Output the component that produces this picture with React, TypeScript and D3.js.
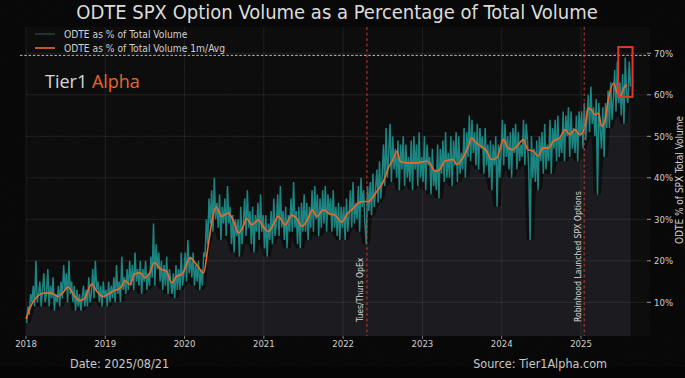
import React from "react";
import * as d3 from "d3";

// ---------- DATA ----------
const yearTicks = [2018, 2019, 2020, 2021, 2022, 2023, 2024, 2025];
const pctTicks = [10, 20, 30, 40, 50, 60, 70];

// raw daily-ish values (5 samples per month)
const raw2018 = [5, 9, 7, 12, 10, 14, 9, 20, 10, 12, 15, 9, 13, 17, 10, 12, 18, 9, 14, 11, 16, 8, 12, 10, 14, 9, 15, 11, 19, 13, 17, 10, 20, 12, 15, 10, 14, 8, 13, 9, 12, 8, 11, 14, 9, 13, 9, 16, 10, 12, 18, 11, 20, 13, 15, 10, 14, 9, 15, 11];
const raw2019 = [13, 9, 15, 10, 14, 11, 16, 10, 19, 12, 15, 10, 21, 13, 16, 12, 18, 13, 20, 14, 19, 13, 22, 15, 18, 14, 20, 12, 18, 15, 20, 13, 17, 14, 21, 16, 29, 14, 24, 18, 22, 15, 20, 13, 19, 14, 21, 12, 18, 15, 12, 17, 11, 19, 13, 18, 13, 22, 14, 17];
const raw2020 = [22, 15, 25, 17, 21, 16, 22, 14, 19, 15, 20, 13, 18, 14, 22, 21, 30, 24, 35, 29, 37, 27, 40, 30, 34, 28, 36, 25, 33, 29, 35, 26, 38, 29, 33, 24, 31, 22, 30, 26, 30, 21, 33, 24, 29, 35, 26, 37, 28, 32, 24, 33, 22, 31, 27, 34, 25, 36, 27, 31];
const raw2021 = [23, 31, 21, 29, 25, 32, 24, 35, 26, 29, 36, 26, 38, 28, 32, 25, 33, 23, 31, 27, 35, 27, 39, 28, 32, 24, 33, 23, 34, 27, 36, 27, 34, 25, 33, 28, 37, 27, 38, 30, 36, 26, 35, 28, 37, 29, 38, 27, 36, 31, 35, 27, 37, 28, 33, 26, 34, 25, 33, 28];
const raw2022 = [33, 25, 35, 27, 31, 37, 28, 39, 29, 34, 30, 38, 27, 40, 33, 37, 29, 24, 38, 32, 39, 31, 41, 33, 37, 42, 34, 44, 35, 40, 48, 38, 52, 40, 46, 53, 39, 50, 42, 47, 40, 49, 37, 48, 42, 50, 38, 48, 40, 45, 39, 49, 37, 50, 42, 48, 38, 51, 40, 45];
const raw2023 = [39, 50, 37, 48, 43, 45, 36, 47, 38, 42, 37, 48, 35, 47, 41, 49, 39, 51, 40, 46, 40, 50, 38, 49, 43, 51, 39, 50, 41, 46, 42, 52, 40, 51, 45, 55, 44, 54, 46, 51, 43, 53, 42, 52, 47, 50, 41, 52, 43, 48, 40, 49, 37, 48, 43, 50, 33, 48, 40, 46];
const raw2024 = [54, 43, 53, 45, 50, 42, 51, 40, 52, 46, 53, 42, 51, 44, 48, 45, 54, 43, 53, 49, 42, 25, 50, 40, 47, 39, 49, 37, 50, 44, 51, 41, 53, 42, 48, 44, 54, 41, 52, 47, 54, 44, 55, 45, 50, 46, 56, 44, 55, 50, 57, 45, 56, 47, 52, 46, 55, 44, 56, 50];
const raw2025 = [56, 47, 58, 49, 54, 60, 51, 62, 53, 57, 50, 59, 36, 58, 52, 47, 57, 45, 58, 52, 61, 52, 63, 54, 59, 66, 56, 68, 58, 63, 55, 65, 53, 69, 60, 58, 68, 62];
const rawYears: [number, number[]][] = [
  [2018, raw2018], [2019, raw2019], [2020, raw2020], [2021, raw2021],
  [2022, raw2022], [2023, raw2023], [2024, raw2024], [2025, raw2025],
];

// 1-month moving average: [fractional year, %]
const movingAvg: [number, number][] = [
  [2018.0, 6.0], [2018.05, 8.6], [2018.11, 10.7], [2018.18, 11.9], [2018.24, 12.2], [2018.32, 12.2], [2018.41, 11.4], [2018.47, 12.4], [2018.53, 13.7], [2018.6, 11.8], [2018.68, 10.4], [2018.74, 11.0], [2018.83, 14.4], [2018.89, 12.7], [2018.97, 11.4],
  [2019.04, 12.0], [2019.1, 12.7], [2019.19, 13.4], [2019.25, 15.2], [2019.31, 14.3], [2019.37, 16.8], [2019.44, 17.1], [2019.5, 15.9], [2019.56, 17.1], [2019.62, 19.6], [2019.69, 18.1], [2019.77, 17.5], [2019.84, 14.7], [2019.9, 16.3], [2019.97, 16.8],
  [2020.07, 20.7], [2020.15, 19.1], [2020.24, 17.1], [2020.3, 23.9], [2020.36, 31.1], [2020.4, 32.9], [2020.47, 30.7], [2020.55, 31.5], [2020.61, 29.9], [2020.68, 26.7], [2020.74, 28.3], [2020.78, 30.2], [2020.85, 28.7], [2020.93, 29.9], [2020.99, 28.3],
  [2021.06, 27.1], [2021.12, 28.7], [2021.18, 30.7], [2021.27, 28.7], [2021.35, 31.0], [2021.41, 30.3], [2021.48, 28.3], [2021.56, 30.3], [2021.61, 32.3], [2021.67, 30.7], [2021.75, 32.3], [2021.83, 31.3], [2021.9, 31.0], [2021.98, 29.3],
  [2022.06, 31.5], [2022.13, 32.7], [2022.19, 33.9], [2022.25, 34.3], [2022.32, 34.3], [2022.38, 35.5], [2022.44, 37.1], [2022.51, 39.2], [2022.57, 42.4], [2022.63, 44.4], [2022.68, 46.4], [2022.72, 44.0], [2022.8, 43.6], [2022.93, 43.6],
  [2023.05, 44.0], [2023.09, 43.6], [2023.16, 41.6], [2023.22, 42.0], [2023.28, 44.0], [2023.39, 44.4], [2023.43, 43.2], [2023.51, 44.8], [2023.58, 47.6], [2023.62, 49.6], [2023.68, 48.4], [2023.74, 47.6], [2023.81, 46.4], [2023.87, 44.4], [2023.94, 44.8],
  [2024.02, 49.2], [2024.08, 47.2], [2024.14, 46.8], [2024.21, 48.0], [2024.27, 49.2], [2024.33, 46.8], [2024.4, 46.4], [2024.46, 45.2], [2024.52, 47.2], [2024.59, 47.2], [2024.65, 48.8], [2024.73, 49.6], [2024.8, 51.6], [2024.86, 50.4], [2024.92, 51.6], [2024.99, 50.4],
  [2025.05, 52.4], [2025.09, 56.8], [2025.13, 56.4], [2025.18, 55.2], [2025.22, 55.6], [2025.26, 52.4], [2025.3, 53.6], [2025.34, 58.4], [2025.41, 62.8], [2025.45, 60.8], [2025.49, 59.6], [2025.54, 61.6], [2025.58, 62.5],
];

const events = [
  { t: 2022.3, label: "Tues/Thurs OpEx" },
  { t: 2025.04, label: "Robinhood Launched SPX Options" },
];
const maxLine = 69.5;
const highlight = { t0: 2025.47, t1: 2025.65, v0: 59.5, v1: 71.5 };

const legendItems = [
  { label: "ODTE as % of Total Volume", color: "#2c3a3c" },
  { label: "ODTE as % of Total Volume 1m/Avg", color: "#f0692a" },
];

// ---------- LAYOUT ----------
const W = 685;
const H = 378;
const left = 26;
const right = 650;
const top = 27;
const bottom = 336;
const font = "'DejaVu Sans Condensed', 'Liberation Sans Narrow', 'DejaVu Sans', sans-serif";

export default function App() {
  const x = d3.scaleLinear().domain([2018, 2025]).range([26, 581]);
  const y = d3.scaleLinear().domain([2, 76]).range([335.5, 28.4]);

  const raw: [number, number][] = [];
  rawYears.forEach(([yr, vals]) => {
    vals.forEach((v, i) => raw.push([yr + (i + 0.5) / 60, v]));
  });
  // lower envelope (rolling min) for the grey under-area
  const lower: [number, number][] = raw.map((d, i) => {
    const w = raw.slice(Math.max(0, i - 3), i + 4).map((p) => p[1]);
    return [d[0], d3.min(w) as number];
  });

  const line = d3.line<[number, number]>().x((d) => x(d[0])).y((d) => y(d[1]));
  const area = d3
    .area<[number, number]>()
    .x((d) => x(d[0]))
    .y0(bottom)
    .y1((d) => y(d[1]))
    .curve(d3.curveBasis);

  return (
    <svg width={W} height={H} style={{ display: "block", position: "absolute", left: 0, top: 0 }} fontFamily={font}>
      <defs>
        <filter id="noise">
          <feTurbulence type="fractalNoise" baseFrequency="0.9" numOctaves="2" seed="3" />
          <feColorMatrix type="matrix" values="0 0 0 0 1  0 0 0 0 1  0 0 0 0 1  0 0 0 0.025 0" />
        </filter>
      </defs>
      <rect x={0} y={0} width={W} height={H} fill="#050505" />
      <rect x={left} y={top} width={right - left} height={bottom - top} fill="#0a0a0a" />
      <rect x={left} y={top} width={right - left} height={bottom - top} filter="url(#noise)" />

      {/* grey under-area */}
      <path d={area(lower) || ""} fill="#1c1c20" />

      {/* grid */}
      {yearTicks.map((t) => (
        <line key={"vx" + t} x1={x(t)} x2={x(t)} y1={top} y2={bottom} stroke="#ffffff" strokeOpacity={0.1} strokeWidth={0.8} />
      ))}
      {pctTicks.map((p) => (
        <line key={"hy" + p} x1={left} x2={right - 3} y1={y(p)} y2={y(p)} stroke="#ffffff" strokeOpacity={0.1} strokeWidth={0.8} />
      ))}

      {/* raw series */}
      <path d={line(raw) || ""} fill="none" stroke="#1e8c89" strokeWidth={1.5} strokeOpacity={0.95} />
      {/* moving average */}
      <path d={line.curve(d3.curveMonotoneX)(movingAvg) || ""} fill="none" stroke="#f0692a" strokeWidth={1.6} />

      {/* max dashed line */}
      <line x1={left - 6} x2={right} y1={y(maxLine)} y2={y(maxLine)} stroke="#cfcfcf" strokeWidth={0.9} strokeDasharray="2.5,1.8" />

      {/* events */}
      {events.map((e) => (
        <g key={e.label}>
          <line x1={x(e.t)} x2={x(e.t)} y1={top} y2={bottom} stroke="#c23a33" strokeWidth={1} strokeDasharray="3,2.5" />
          <text
            transform={`translate(${x(e.t) - 3.5},${bottom - 14}) rotate(-90)`}
            fontSize={8.6}
            fill="#d8d8d8"
          >
            {e.label}
          </text>
        </g>
      ))}

      {/* highlight rect */}
      <rect
        x={x(highlight.t0)}
        y={y(highlight.v1)}
        width={x(highlight.t1) - x(highlight.t0)}
        height={y(highlight.v0) - y(highlight.v1)}
        fill="none"
        stroke="#e8332e"
        strokeWidth={2}
      />

      {/* right axis */}
      {pctTicks.map((p) => (
        <g key={"ry" + p}>
          <line x1={right - 3} x2={right + 1} y1={y(p)} y2={y(p)} stroke="#bbbbbb" strokeWidth={0.8} />
          <text x={right + 4} y={y(p)} dy="0.35em" fontSize={9.5} fill="#cfcfcf">
            {p}%
          </text>
        </g>
      ))}
      <text transform={`translate(683,180) rotate(-90)`} textAnchor="middle" fontSize={10} fill="#cfcfcf">
        ODTE % of SPX Total Volume
      </text>

      {/* bottom axis */}
      {yearTicks.map((t) => (
        <g key={"bx" + t}>
          <line x1={x(t)} x2={x(t)} y1={bottom} y2={bottom + 3} stroke="#999" strokeWidth={0.8} />
          <text x={x(t)} y={347} textAnchor="middle" fontSize={9.5} fill="#d0d0d0">
            {t}
          </text>
        </g>
      ))}

      {/* title */}
      <text x={337} y={19} textAnchor="middle" fontSize={20} fill="#dcdcdc">
        ODTE SPX Option Volume as a Percentage of Total Volume
      </text>

      {/* legend */}
      {legendItems.map((d, i) => (
        <g key={d.label}>
          <line x1={35} x2={55} y1={34 + i * 14} y2={34 + i * 14} stroke={d.color} strokeWidth={1.6} />
          <text x={64} y={34 + i * 14} dy="0.35em" fontSize={10.2} fill="#d0d0d0">
            {d.label}
          </text>
        </g>
      ))}

      {/* brand */}
      <text x={45} y={88} fontSize={18} fill="#d8d8d8" fontFamily="'Open Sans', 'DejaVu Sans', sans-serif">
        Tier1 <tspan fill="#e8652d">Alpha</tspan>
      </text>

      {/* footer */}
      <text x={70} y={368} fontSize={12.5} fill="#c8c8c8">
        Date: 2025/08/21
      </text>
      <text x={607} y={368} textAnchor="end" fontSize={12.5} fill="#c8c8c8">
        Source: Tier1Alpha.com
      </text>
    </svg>
  );
}
